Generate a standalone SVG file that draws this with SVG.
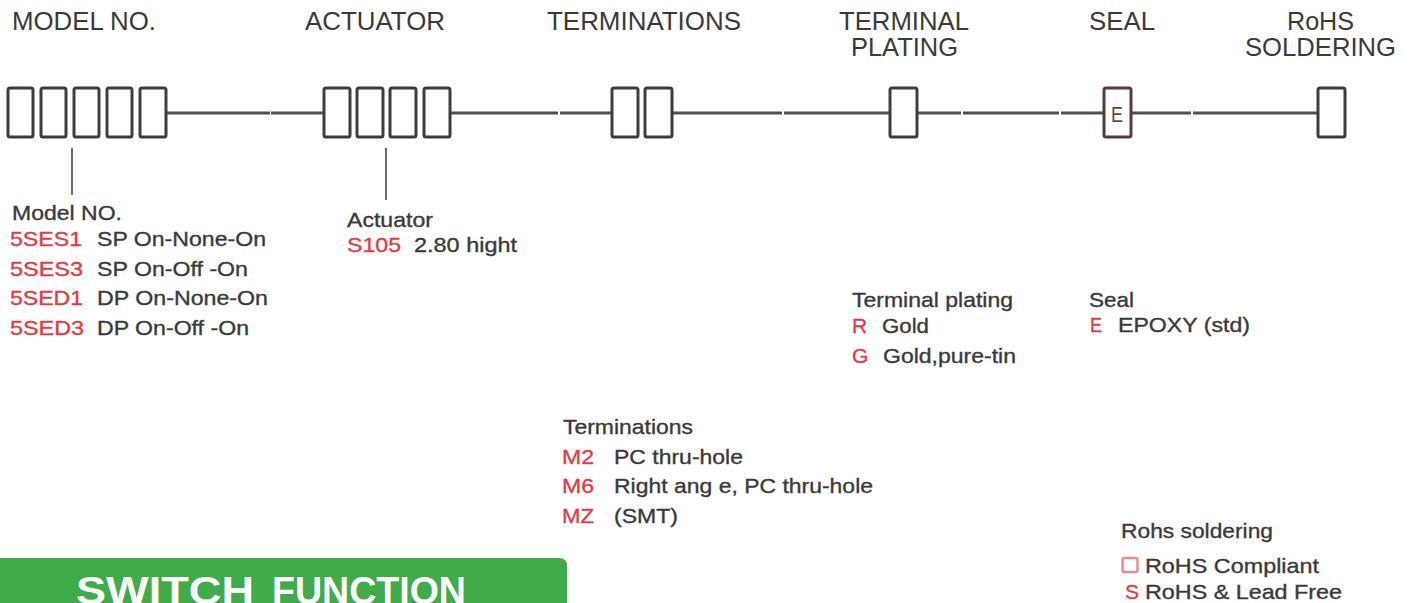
<svg xmlns="http://www.w3.org/2000/svg" width="1414" height="603" viewBox="0 0 1414 603">
<style>
text{font-family:"Liberation Sans",Arial,sans-serif;fill:#3a3a3a}
.h{font-size:25px}
.b{font-size:21px;stroke:#3a3a3a;stroke-width:0.35}
.r{fill:#e53a43;stroke:#e53a43}
.box{fill:none;stroke:#3c3c3c;stroke-width:3}
.ln{stroke:#505050;stroke-width:3;fill:none}
.tk{stroke:#3c3c3c;stroke-width:1.5}
</style>
<rect width="1414" height="603" fill="#fff"/>
<g id="connectors">
<path class="ln" d="M166 113H270M271 113H324M450 113H558M560 113H612M672 113H782M784 113H889M917 113H961M963 113H1059M1061 113H1103M1131 113H1191M1193 113H1318"/>
<path class="tk" d="M72 148V195M386 148V200"/>
</g>
<g id="model-no">
<text class="h" x="12" y="30" textLength="144" lengthAdjust="spacingAndGlyphs">MODEL NO.</text>
<rect class="box" x="8" y="88" width="25" height="49" rx="2"/>
<rect class="box" x="41" y="88" width="25" height="49" rx="2"/>
<rect class="box" x="74" y="88" width="25" height="49" rx="2"/>
<rect class="box" x="107" y="88" width="25" height="49" rx="2"/>
<rect class="box" x="140" y="88" width="26" height="49" rx="2"/>
<text class="b" x="12" y="220" textLength="110" lengthAdjust="spacingAndGlyphs">Model NO.</text>
<text class="b r" x="10" y="246" textLength="72" lengthAdjust="spacingAndGlyphs">5SES1</text>
<text class="b" x="97" y="246" textLength="169" lengthAdjust="spacingAndGlyphs">SP On-None-On</text>
<text class="b r" x="10" y="276" textLength="73" lengthAdjust="spacingAndGlyphs">5SES3</text>
<text class="b" x="97" y="276" textLength="151" lengthAdjust="spacingAndGlyphs">SP On-Off -On</text>
<text class="b r" x="10" y="305" textLength="73" lengthAdjust="spacingAndGlyphs">5SED1</text>
<text class="b" x="97" y="305" textLength="171" lengthAdjust="spacingAndGlyphs">DP On-None-On</text>
<text class="b r" x="10" y="335" textLength="74" lengthAdjust="spacingAndGlyphs">5SED3</text>
<text class="b" x="97" y="335" textLength="152" lengthAdjust="spacingAndGlyphs">DP On-Off -On</text>
</g>
<g id="actuator">
<text class="h" x="305" y="30" textLength="140" lengthAdjust="spacingAndGlyphs">ACTUATOR</text>
<rect class="box" x="324" y="88" width="26" height="49" rx="2"/>
<rect class="box" x="357" y="88" width="26" height="49" rx="2"/>
<rect class="box" x="390" y="88" width="26" height="49" rx="2"/>
<rect class="box" x="424" y="88" width="26" height="49" rx="2"/>
<text class="b" x="347" y="227" textLength="86" lengthAdjust="spacingAndGlyphs">Actuator</text>
<text class="b r" x="347" y="252" textLength="54" lengthAdjust="spacingAndGlyphs">S105</text>
<text class="b" x="414" y="252" textLength="103" lengthAdjust="spacingAndGlyphs">2.80 hight</text>
</g>
<g id="terminations">
<text class="h" x="547" y="30" textLength="194" lengthAdjust="spacingAndGlyphs">TERMINATIONS</text>
<rect class="box" x="612" y="88" width="26" height="49" rx="2"/>
<rect class="box" x="645" y="88" width="27" height="49" rx="2"/>
<text class="b" x="563" y="434" textLength="130" lengthAdjust="spacingAndGlyphs">Terminations</text>
<text class="b r" x="562" y="464" textLength="32" lengthAdjust="spacingAndGlyphs">M2</text>
<text class="b" x="614" y="464" textLength="129" lengthAdjust="spacingAndGlyphs">PC thru-hole</text>
<text class="b r" x="562" y="493" textLength="32" lengthAdjust="spacingAndGlyphs">M6</text>
<text class="b" x="614" y="493" textLength="259" lengthAdjust="spacingAndGlyphs">Right ang e, PC thru-hole</text>
<text class="b r" x="562" y="523" textLength="32" lengthAdjust="spacingAndGlyphs">MZ</text>
<text class="b" x="614" y="523" textLength="64" lengthAdjust="spacingAndGlyphs">(SMT)</text>
</g>
<g id="terminal-plating">
<text class="h" x="839" y="30" textLength="130" lengthAdjust="spacingAndGlyphs">TERMINAL</text>
<text class="h" x="851" y="56" textLength="107" lengthAdjust="spacingAndGlyphs">PLATING</text>
<rect class="box" x="890" y="88" width="27" height="49" rx="2"/>
<text class="b" x="852" y="307" textLength="161" lengthAdjust="spacingAndGlyphs">Terminal plating</text>
<text class="b r" x="852" y="333">R</text>
<text class="b" x="882" y="333" textLength="47" lengthAdjust="spacingAndGlyphs">Gold</text>
<text class="b r" x="852" y="363">G</text>
<text class="b" x="883" y="363" textLength="133" lengthAdjust="spacingAndGlyphs">Gold,pure-tin</text>
</g>
<g id="seal">
<text class="h" x="1089" y="30" textLength="66" lengthAdjust="spacingAndGlyphs">SEAL</text>
<rect x="1104" y="88" width="27" height="49" rx="2" fill="none" stroke="#5a3a3a" stroke-width="3"/>
<text x="1117" y="122" text-anchor="middle" font-size="22" style="fill:#6a4545" textLength="12" lengthAdjust="spacingAndGlyphs">E</text>
<text class="b" x="1089" y="307" textLength="45" lengthAdjust="spacingAndGlyphs">Seal</text>
<text class="b r" x="1090" y="332" textLength="12" lengthAdjust="spacingAndGlyphs">E</text>
<text class="b" x="1118" y="332" textLength="132" lengthAdjust="spacingAndGlyphs">EPOXY (std)</text>
</g>
<g id="rohs">
<text class="h" x="1287" y="30" textLength="67" lengthAdjust="spacingAndGlyphs">RoHS</text>
<text class="h" x="1245" y="56" textLength="151" lengthAdjust="spacingAndGlyphs">SOLDERING</text>
<rect class="box" x="1318" y="88" width="27" height="49" rx="2"/>
<text class="b" x="1121" y="538" textLength="152" lengthAdjust="spacingAndGlyphs">Rohs soldering</text>
<rect x="1122.5" y="558" width="15" height="14" rx="2" fill="none" stroke="#f08a8a" stroke-width="2.5"/>
<text class="b" x="1145" y="573" textLength="174" lengthAdjust="spacingAndGlyphs">RoHS Compliant</text>
<text class="b r" x="1125" y="599">S</text>
<text class="b" x="1145" y="599" textLength="197" lengthAdjust="spacingAndGlyphs">RoHS &amp; Lead Free</text>
</g>
<g id="switch-function">
<path d="M0 558H559Q567 558 567 566V603H0Z" fill="#3fab49"/>
<text x="76" y="604" font-size="39" font-weight="bold" style="fill:#fff" textLength="178" lengthAdjust="spacingAndGlyphs">SWITCH</text>
<text x="272" y="604" font-size="39" font-weight="bold" style="fill:#fff" textLength="194" lengthAdjust="spacingAndGlyphs">FUNCTION</text>
</g>
</svg>
